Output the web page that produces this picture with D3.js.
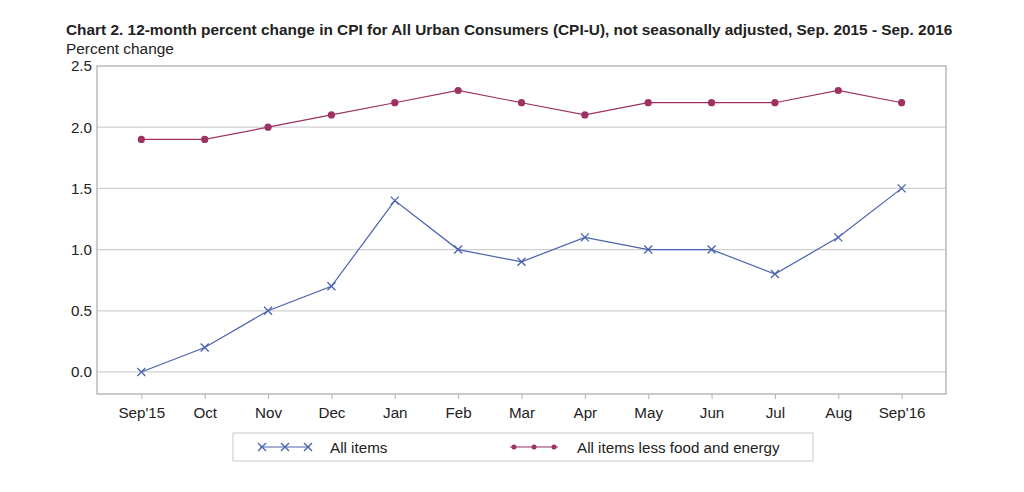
<!DOCTYPE html>
<html><head><meta charset="utf-8">
<script src="https://cdn.jsdelivr.net/npm/d3@7"></script>
<style>body{margin:0;background:#fff}svg{display:block}text{font-family:"Liberation Sans",Arial,sans-serif}</style>
</head><body>
<svg id="c" width="1024" height="492"></svg>
<script>
const categories = ["Sep'15","Oct","Nov","Dec","Jan","Feb","Mar","Apr","May","Jun","Jul","Aug","Sep'16"];
const allItems = [0.0,0.2,0.5,0.7,1.4,1.0,0.9,1.1,1.0,1.0,0.8,1.1,1.5];
const core = [1.9,1.9,2.0,2.1,2.2,2.3,2.2,2.1,2.2,2.2,2.2,2.3,2.2];
const yTicks = [0.0,0.5,1.0,1.5,2.0,2.5];
const seriesNames = ["All items","All items less food and energy"];
const colors = ["#4a62ae","#9e3162"];

const svg = d3.select("#c");
const L=97,R=946,T=66,B=394;
const x = d3.scalePoint().domain(categories).range([L,R]).padding(0.7);
const y = d3.scaleLinear().domain([-0.18,2.5]).range([B,T]);
const FS = 15.2;

svg.append("text").attr("x",66).attr("y",35).attr("font-size",15.4).attr("font-weight","bold").attr("fill","#222")
  .text("Chart 2. 12-month percent change in CPI for All Urban Consumers (CPI-U), not seasonally adjusted, Sep. 2015 - Sep. 2016");
svg.append("text").attr("x",66).attr("y",54).attr("font-size",15.4).attr("fill","#222").text("Percent change");

// gridlines
svg.append("g").selectAll("line").data(yTicks.slice(0,-1)).join("line")
  .attr("x1",L).attr("x2",R).attr("y1",d=>y(d)).attr("y2",d=>y(d)).attr("stroke","#d0d0d0").attr("stroke-width",1.2);

// frame
svg.append("rect").attr("x",L).attr("y",T).attr("width",R-L).attr("height",B-T).attr("fill","none").attr("stroke","#b0b0b0").attr("stroke-width",1.3);

// y axis
const ya = svg.append("g").attr("transform",`translate(${L},0)`).call(d3.axisLeft(y).tickValues(yTicks).tickFormat(d3.format(".1f")).tickSize(0).tickPadding(5));
ya.select(".domain").remove();
ya.selectAll("text").attr("font-size",FS).attr("fill","#222").style("font-family","Liberation Sans, Arial, sans-serif");

// x axis
const xa = svg.append("g").attr("transform",`translate(0,${B})`).call(d3.axisBottom(x).tickSize(5).tickPadding(8));
xa.select(".domain").remove();
xa.selectAll("line").attr("stroke","#b0b0b0");
xa.selectAll("text").attr("font-size",FS).attr("fill","#222").style("font-family","Liberation Sans, Arial, sans-serif");

const line = d3.line().x((d,i)=>x(categories[i])).y(d=>y(d));
function cross(g,cx,cy,c){const s=4;g.append("path").attr("d",`M${cx-s},${cy-s}L${cx+s},${cy+s}M${cx-s},${cy+s}L${cx+s},${cy-s}`).attr("stroke",c).attr("stroke-width",1.3).attr("fill","none");}

svg.append("path").datum(allItems).attr("d",line).attr("fill","none").attr("stroke",colors[0]).attr("stroke-width",1.2);
const g1=svg.append("g");
allItems.forEach((v,i)=>cross(g1,x(categories[i]),y(v),colors[0]));

svg.append("path").datum(core).attr("d",line).attr("fill","none").attr("stroke",colors[1]).attr("stroke-width",1.2);
svg.append("g").selectAll("circle").data(core).join("circle").attr("cx",(d,i)=>x(categories[i])).attr("cy",d=>y(d)).attr("r",3.6).attr("fill",colors[1]);

// legend
const lg = svg.append("g");
lg.append("rect").attr("x",233).attr("y",433).attr("width",580).attr("height",28).attr("fill","#fff").attr("stroke","#d0d0d0").attr("stroke-width",1.2);
lg.append("line").attr("x1",260).attr("x2",310).attr("y1",447).attr("y2",447).attr("stroke",colors[0]).attr("stroke-width",1.2);
[262,285,308].forEach(cx=>cross(lg,cx,447,colors[0]));
lg.append("text").attr("x",330).attr("y",452.5).attr("font-size",FS).attr("fill","#222").text(seriesNames[0]);
lg.append("line").attr("x1",510).attr("x2",558).attr("y1",447).attr("y2",447).attr("stroke",colors[1]).attr("stroke-width",1.2);
[514,534,554].forEach(cx=>lg.append("circle").attr("cx",cx).attr("cy",447).attr("r",2.5).attr("fill",colors[1]));
lg.append("text").attr("x",577).attr("y",452.5).attr("font-size",FS).attr("fill","#222").text(seriesNames[1]);
</script>
</body></html>
